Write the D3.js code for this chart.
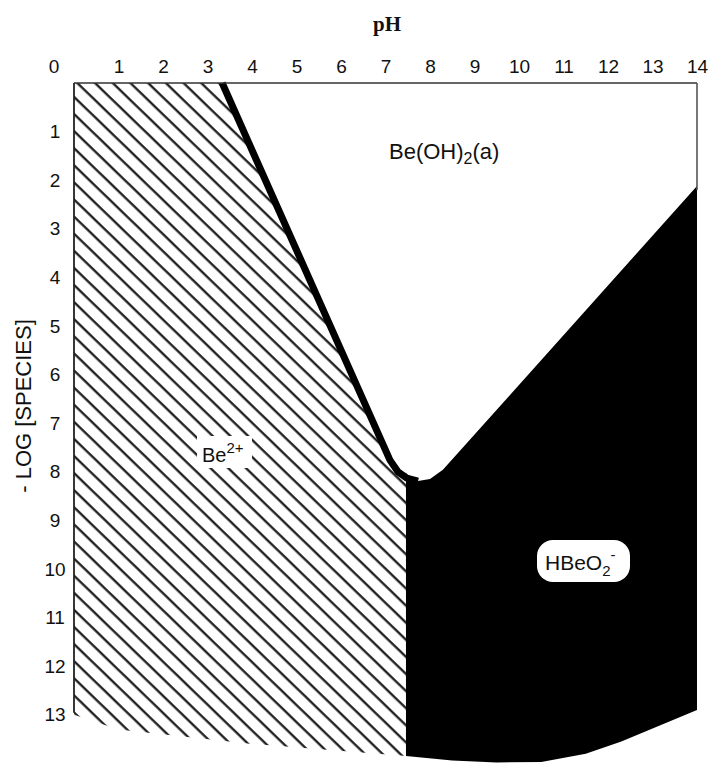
<!DOCTYPE html>
<html>
<head>
<meta charset="utf-8">
<script src="https://cdn.jsdelivr.net/npm/d3@7"></script>
<style>
  body { margin: 0; background: #fff; }
  text { font-family: "Liberation Sans", Arial, sans-serif; fill: #111; }
</style>
</head>
<body>
<div id="chart"></div>
<script>
var phTicks = [1, 2, 3, 4, 5, 6, 7, 8, 9, 10, 11, 12, 13, 14]; // x tick labels
var logTicks = [1, 2, 3, 4, 5, 6, 7, 8, 9, 10, 11, 12, 13];   // y tick labels

// Be(OH)2 boundary, [pH, -log species]
var oxideEdge = [[3.33, 0], [7.10, 7.76], [7.28, 8.0], [7.48, 8.13], [7.73, 8.19],
                 [8.0, 8.15], [8.29, 7.96], [14, 2.12]];
var be2Limit = 7.46; // vertical line Be2+ | HBeO2-
var hatchBottom = [[0, 13.0], [1, 13.3], [4, 13.6], [7.46, 13.85]];
var blackBottom = [[7.46, 13.85], [8.5, 13.94], [9.5, 13.98], [10.5, 13.97], [11.5, 13.8], [12.3, 13.55], [14, 12.9]];

var width = 709;
var height = 763;

var x = d3.scaleLinear().domain([0, 14]).range([74, 697]);
var y = d3.scaleLinear().domain([0, 14]).range([83, 83 + 48.6 * 14]);

var svg = d3.select("#chart").append("svg")
  .attr("width", width)
  .attr("height", height);

// hatch pattern for the Be2+ field
var pat = svg.append("defs").append("pattern")
  .attr("id", "hatch")
  .attr("patternUnits", "userSpaceOnUse")
  .attr("width", 20)
  .attr("height", 12.3)
  .attr("patternTransform", "rotate(44)");
pat.append("line")
  .attr("x1", 0).attr("x2", 20)
  .attr("y1", 6).attr("y2", 6)
  .attr("stroke", "#111")
  .attr("stroke-width", 2.2);

var line = d3.line()
  .x(function(d) { return x(d[0]); })
  .y(function(d) { return y(d[1]); });

// Be2+ region: left of the oxide edge and the vertical limit
var leftPart = oxideEdge.filter(function(d) { return d[0] <= be2Limit; });
var lastY = leftPart[leftPart.length - 1][1];
var hatchPts = [[0, 0]].concat(leftPart, [[be2Limit, lastY]], hatchBottom.slice().reverse());
svg.append("path")
  .attr("d", line(hatchPts) + "Z")
  .attr("fill", "url(#hatch)");

// HBeO2- region
var rightPart = oxideEdge.filter(function(d) { return d[0] >= be2Limit; });
var blackPts = [[be2Limit, lastY]].concat(rightPart, blackBottom.slice().reverse());
svg.append("path")
  .attr("d", line(blackPts) + "Z")
  .attr("fill", "#000");

// thick Be(OH)2 boundary
svg.append("path")
  .attr("d", line(oxideEdge.filter(function(d) { return d[0] <= 7.8; })))
  .attr("fill", "none")
  .attr("stroke", "#000")
  .attr("stroke-width", 7)
  .attr("stroke-linejoin", "round");

// frame
svg.append("line") // top
  .attr("x1", x(0)).attr("x2", x(14))
  .attr("y1", y(0)).attr("y2", y(0))
  .attr("stroke", "#333").attr("stroke-width", 1.6);
svg.append("line") // right, above the black field
  .attr("x1", x(14)).attr("x2", x(14))
  .attr("y1", y(0)).attr("y2", y(2.2))
  .attr("stroke", "#555").attr("stroke-width", 1.6);
svg.append("line") // left
  .attr("x1", x(0)).attr("x2", x(0))
  .attr("y1", y(0)).attr("y2", y(12.96))
  .attr("stroke", "#222").attr("stroke-width", 1.8);

// axes
var xAxis = svg.append("g")
  .attr("transform", "translate(0," + y(0) + ")")
  .call(d3.axisTop(x).tickValues(phTicks).tickSize(0).tickPadding(10));
xAxis.select(".domain").remove();
xAxis.selectAll("text").style("font-size", "19px").style("font-family", null);

var yAxis = svg.append("g")
  .attr("transform", "translate(" + x(0) + ",0)")
  .call(d3.axisLeft(y).tickValues(logTicks).tickSize(0));
yAxis.select(".domain").remove();
yAxis.selectAll("text")
  .attr("x", -19)
  .attr("text-anchor", "middle")
  .style("font-size", "19px").style("font-family", null);

svg.append("text") // corner zero
  .attr("x", 54).attr("y", y(0) - 10)
  .attr("text-anchor", "middle")
  .style("font-size", "19px")
  .text("0");

svg.append("text")
  .attr("x", 387).attr("y", 31)
  .attr("text-anchor", "middle")
  .style("font-family", "'Liberation Serif', serif")
  .style("font-weight", "bold")
  .style("font-size", "21px")
  .text("pH");

svg.append("text")
  .attr("transform", "translate(31,406) rotate(-90)")
  .attr("text-anchor", "middle")
  .style("font-size", "22px")
  .text("- LOG [SPECIES]");

// field labels
var ox = svg.append("text")
  .attr("x", 389).attr("y", 159)
  .style("font-size", "22px");
ox.append("tspan").text("Be(OH)");
ox.append("tspan").attr("dy", 5).style("font-size", "16px").text("2");
ox.append("tspan").attr("dy", -5).text("(a)");

svg.append("rect") // clear the hatching behind Be2+
  .attr("x", 197).attr("y", 436)
  .attr("width", 55).attr("height", 32)
  .attr("fill", "#fff");
var be = svg.append("text")
  .attr("x", 202).attr("y", 462)
  .style("font-size", "20px");
be.append("tspan").text("Be");
be.append("tspan").attr("dy", -9).style("font-size", "15px").text("2+");

svg.append("rect")
  .attr("x", 537).attr("y", 540)
  .attr("width", 93).attr("height", 42)
  .attr("rx", 16)
  .attr("fill", "#fff");
var hb = svg.append("text")
  .attr("x", 545).attr("y", 570)
  .style("font-size", "21px");
hb.append("tspan").text("HBeO");
hb.append("tspan").attr("dy", 6).style("font-size", "15px").text("2");
hb.append("tspan").attr("dy", -16).style("font-size", "15px").text("-");
</script>
</body>
</html>
